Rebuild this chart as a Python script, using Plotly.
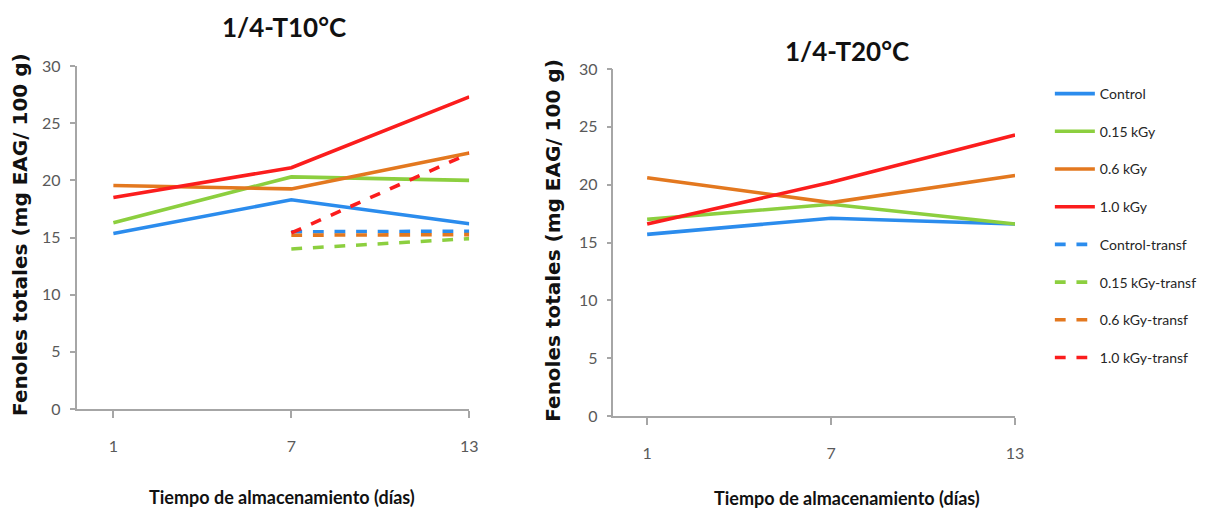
import plotly.graph_objects as go

days = [1, 7, 13]
days_transf = [7, 13]
series_names = ["Control", "0.15 kGy", "0.6 kGy", "1.0 kGy"]
transf_names = ["Control-transf", "0.15 kGy-transf", "0.6 kGy-transf", "1.0 kGy-transf"]
colors = ["#2b8ced", "#8ccf3f", "#e3781f", "#fb1d1d"]

# 1/4-T10°C
t10_control = [15.35, 18.3, 16.2]
t10_015 = [16.3, 20.3, 20.0]
t10_06 = [19.55, 19.25, 22.4]
t10_10 = [18.5, 21.1, 27.3]
t10_control_tr = [15.5, 15.55]
t10_015_tr = [14.0, 14.9]
t10_06_tr = [15.2, 15.25]
t10_10_tr = [15.4, 22.35]

# 1/4-T20°C
t20_control = [15.7, 17.1, 16.6]
t20_015 = [17.0, 18.3, 16.6]
t20_06 = [20.6, 18.45, 20.8]
t20_10 = [16.6, 20.2, 24.3]

y_ticks = [0, 5, 10, 15, 20, 25, 30]
title_left = "1/4-T10°C"
title_right = "1/4-T20°C"
x_title = "Tiempo de almacenamiento (días)"
y_title = "Fenoles totales (mg EAG/ 100 g)"

fig = go.Figure()
lw = 3.6
left_solid = [t10_control, t10_015, t10_06, t10_10]
left_tr = [t10_control_tr, t10_015_tr, t10_06_tr, t10_10_tr]
right_solid = [t20_control, t20_015, t20_06, t20_10]

for i, vals in enumerate(left_solid):
    fig.add_trace(go.Scatter(x=days, y=vals, mode="lines", name=series_names[i],
                             line=dict(color=colors[i], width=lw),
                             legendgroup=f"g{i}", xaxis="x", yaxis="y"))
for i, vals in enumerate(left_tr):
    fig.add_trace(go.Scatter(x=days_transf, y=vals, mode="lines", name=transf_names[i],
                             line=dict(color=colors[i], width=lw, dash="dash"),
                             legendgroup=f"g{i+4}", xaxis="x", yaxis="y"))
for i, vals in enumerate(right_solid):
    fig.add_trace(go.Scatter(x=days, y=vals, mode="lines", name=series_names[i],
                             line=dict(color=colors[i], width=lw),
                             showlegend=False, xaxis="x2", yaxis="y2"))

# page has an 8px body margin; work in page pixels and convert
OFF = 8
W, H = 1210 - 2 * OFF, 519 - 2 * OFF

def px(xp):
    return (xp - OFF) / W

def py(yp):
    return 1 - (yp - OFF) / H

axis_col = "#a6a6a6"
FONT = "Lato, Liberation Sans, Arial"
tick_font = dict(family=FONT, size=16, color="#595959")

def xax(domain, rng, anchor):
    return dict(domain=domain, range=rng, anchor=anchor, tickvals=days, ticktext=[str(d) for d in days],
                showgrid=False, zeroline=False, showline=True, linecolor=axis_col, linewidth=1.5,
                ticks="outside", ticklen=7, tickwidth=1.5, tickcolor=axis_col, tickfont=tick_font,
                ticklabelstandoff=15, automargin=False)

def yax(domain, anchor):
    return dict(domain=domain, range=[0, 30], anchor=anchor, tickvals=y_ticks,
                showgrid=False, zeroline=False, showline=True, linecolor=axis_col, linewidth=1.5,
                ticks="outside", ticklen=5, tickwidth=1.5, tickcolor=axis_col, tickfont=tick_font,
                ticklabelstandoff=6, automargin=False)

fig.update_layout(
    width=W, height=H,
    margin=dict(l=0, r=0, t=0, b=0, pad=0),
    paper_bgcolor="white", plot_bgcolor="white",
    xaxis=xax([px(77), px(472)], [-0.24, 13], "y"),
    yaxis=yax([py(409), py(66)], "x"),
    xaxis2=xax([px(617), px(1021)], [-0.1, 13], "y2"),
    yaxis2=yax([py(416), py(69)], "x2"),
    showlegend=True,
    legend=dict(x=px(1056), y=py(78), xanchor="left", yanchor="top",
                traceorder="grouped", tracegroupgap=16.5,
                font=dict(family=FONT, size=14, color="#262626"),
                itemwidth=40, bgcolor="rgba(0,0,0,0)"),
)

title_font = dict(family=FONT, size=26, color="#111111")
axis_title_font = dict(family=FONT, size=18, color="#111111")
ytitle_font = dict(family="DejaVu Sans, Liberation Sans", size=20, color="#111111")

ann = [
    dict(text=f"<b>{title_left}</b>", x=px(286), y=py(27), font=title_font),
    dict(text=f"<b>{title_right}</b>", x=px(852), y=py(51), font=title_font),
    dict(text=f"<b>{x_title}</b>", x=px(284), y=py(497), font=axis_title_font),
    dict(text=f"<b>{x_title}</b>", x=px(852), y=py(498), font=axis_title_font),
    dict(text=f"<b>{y_title}</b>", x=px(20), y=py(234), font=ytitle_font, textangle=-90),
    dict(text=f"<b>{y_title}</b>", x=px(556), y=py(240), font=ytitle_font, textangle=-90),
]
for a in ann:
    fig.add_annotation(xref="paper", yref="paper", showarrow=False, xanchor="center", yanchor="middle", **a)

fig.write_html("out.html")
